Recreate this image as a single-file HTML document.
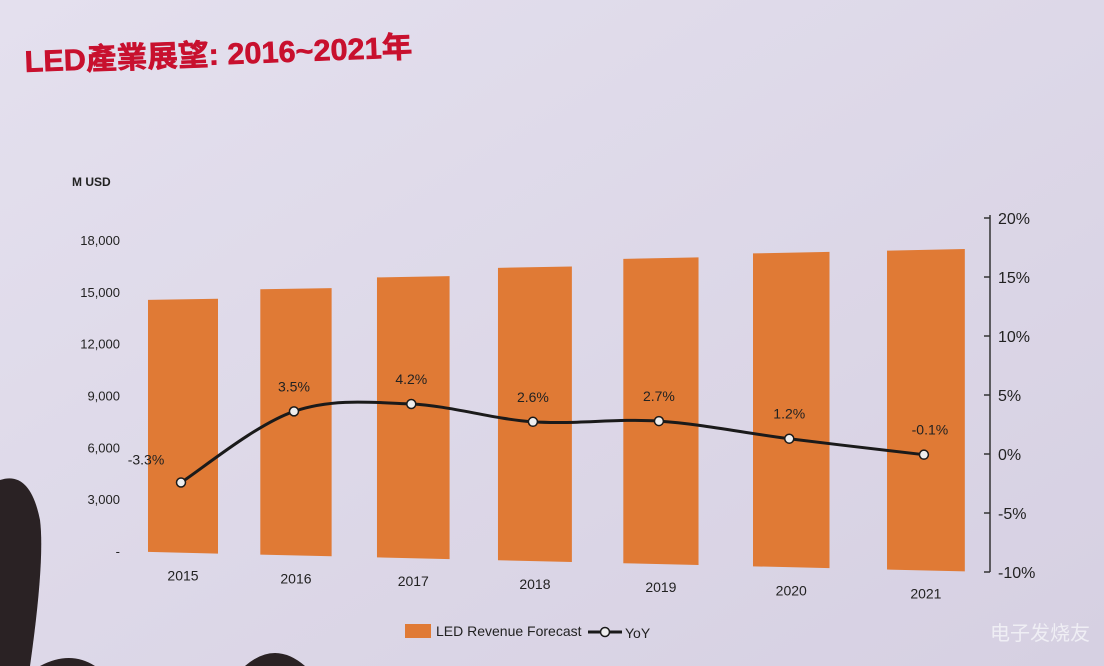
<!DOCTYPE html>
<html><head><meta charset="utf-8"><style>
html,body{margin:0;padding:0;width:1104px;height:666px;overflow:hidden;background:#ddd8e8;}
svg{display:block;font-family:"Liberation Sans","Noto Sans CJK TC",sans-serif;}
</style></head><body>
<svg width="1104" height="666" viewBox="0 0 1104 666">
<defs><linearGradient id="bg" x1="0" y1="0" x2="1" y2="1"><stop offset="0" stop-color="#e4e0ee"/><stop offset="1" stop-color="#d6d0e2"/></linearGradient></defs>
<rect width="1104" height="666" fill="url(#bg)"/>
<text x="25" y="72" transform="rotate(-2.2 25 72)" font-size="30" font-weight="bold" fill="#c8102e" stroke="#c8102e" stroke-width="0.6" textLength="388" lengthAdjust="spacingAndGlyphs">LED產業展望: 2016~2021年</text>
<text x="72" y="186" font-size="12" font-weight="bold" fill="#222">M USD</text>
<g id="plot"></g>
<g>
<rect x="405" y="624" width="26" height="14" fill="#e07a35"/>
<text x="436" y="636" font-size="14" fill="#222">LED Revenue Forecast</text>
<line x1="588" y1="632" x2="622" y2="632" stroke="#1a1a1a" stroke-width="3"/>
<circle cx="605" cy="632" r="4.5" fill="#eee" stroke="#1a1a1a" stroke-width="1.5"/>
<text x="625" y="638" font-size="14" fill="#222">YoY</text>
</g>
<path d="M0 480 Q30 470 40 520 Q45 560 30 666 L0 666 Z" fill="#2a2224"/>
<path d="M40 666 Q70 650 95 666 Z M245 666 Q275 640 305 666 Z" fill="#2a2224"/>
<text x="990" y="640" font-size="20" fill="#f4f4f8" opacity="0.85">电子发烧友</text>
</svg>
<script>
const categories=["2015","2016","2017","2018","2019","2020","2021"];
const revenue=[14500,15000,15550,15950,16300,16450,16450];
const yoy=[-3.3,3.5,4.2,2.6,2.7,1.2,-0.1];
const leftTicks=[0,3000,6000,9000,12000,15000,18000];
const leftTickLabels=["-","3,000","6,000","9,000","12,000","15,000","18,000"];
const rightTicks=[-10,-5,0,5,10,15,20];
const NS="http://www.w3.org/2000/svg";
const plot=document.getElementById('plot');
const XL=110,XR=990;
function tOf(x){return (x-XL)/(XR-XL);}
function base(t){return 551+21*t;}
function top18(t){return 240-22*t;}
function yLeft(v,x){const t=tOf(x);return base(t)-v/18000*(base(t)-top18(t));}
function yRight(p,x){const t=tOf(x);return base(t)-(p+10)/30*(base(t)-top18(t));}
function xCat(i){return 183+110.8*i+2.17*i*i;}
function bw(i){return 70+1.3*i;}
function mk(tag,attrs){const e=document.createElementNS(NS,tag);for(const k in attrs)e.setAttribute(k,attrs[k]);plot.appendChild(e);return e;}
revenue.forEach((v,i)=>{
 const cx=xCat(i),w=bw(i),x0=cx-w/2,x1=cx+w/2;
 const e=mk('polygon',{points:`${x0},${yLeft(0,x0)} ${x1},${yLeft(0,x1)} ${x1},${yLeft(v,x1)} ${x0},${yLeft(v,x0)}`,fill:'#e07a35'});
 
 
 const tx=mk('text',{x:cx,y:yLeft(0,cx)+28,'text-anchor':'middle','font-size':14,fill:'#222'});
 tx.textContent=categories[i];
 
 
});
leftTicks.forEach((v,i)=>{
 const t=mk('text',{x:120,y:yLeft(v,XL)+5,'text-anchor':'end','font-size':13,fill:'#222'});
 t.textContent=leftTickLabels[i];
 
 
});
const ax=mk('line',{x1:XR,y1:yRight(20,XR)-3,x2:XR,y2:yRight(-10,XR),stroke:'#333','stroke-width':1.5});


rightTicks.forEach(p=>{
 const y=yRight(p,XR);
 const l=mk('line',{x1:XR-6,y1:y,x2:XR,y2:y,stroke:'#333','stroke-width':1.5});
 
 
 const t=mk('text',{x:XR+8,y:y+6,'font-size':16,fill:'#222'});
 t.textContent=p+'%';
 
 
});
const pts=yoy.map((p,i)=>[xCat(i)-2,yRight(p,xCat(i))]);
let d=`M${pts[0][0]},${pts[0][1]}`;
for(let i=0;i<pts.length-1;i++){
 const p0=pts[Math.max(0,i-1)],p1=pts[i],p2=pts[i+1],p3=pts[Math.min(pts.length-1,i+2)];
 const c1=[p1[0]+(p2[0]-p0[0])/6,p1[1]+(p2[1]-p0[1])/6],c2=[p2[0]-(p3[0]-p1[0])/6,p2[1]-(p3[1]-p1[1])/6];
 d+=` C${c1[0]},${c1[1]} ${c2[0]},${c2[1]} ${p2[0]},${p2[1]}`;
}
const path=mk('path',{d:d,fill:'none',stroke:'#1a1a1a','stroke-width':3});


pts.forEach((p,i)=>{
 const c=mk('circle',{cx:p[0],cy:p[1],r:4.5,fill:'#eee',stroke:'#1a1a1a','stroke-width':1.5});
 
 
 const lx=i===0?p[0]-35:p[0]+(i===6?6:0);
 const ly=i===0?p[1]-18:p[1]-20;
 const t=mk('text',{x:lx,y:ly,'text-anchor':'middle','font-size':14,fill:'#222'});
 t.textContent=yoy[i].toFixed(1)+'%';
 
 
});
</script>
</body></html>
